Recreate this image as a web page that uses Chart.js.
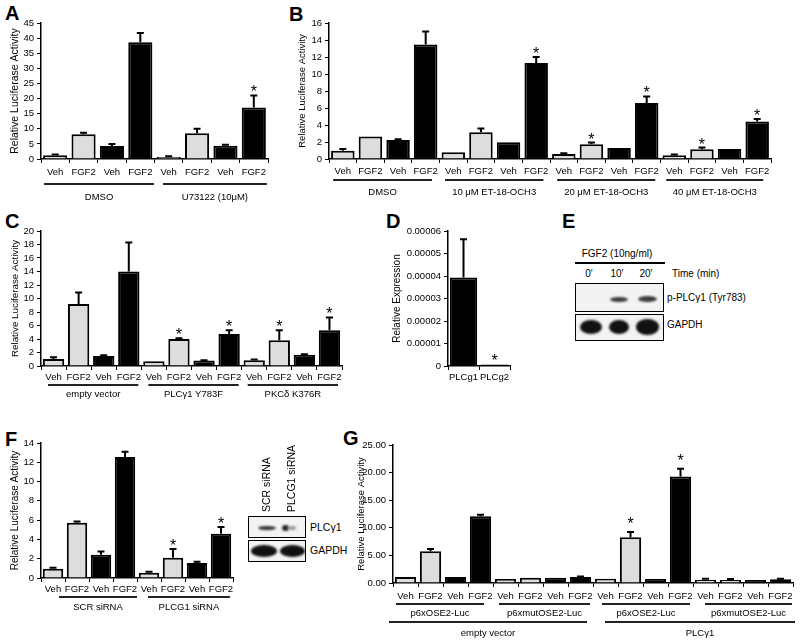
<!DOCTYPE html>
<html>
<head>
<meta charset="utf-8">
<script src="https://cdn.jsdelivr.net/npm/chart.js@4"></script>
<style>
body { margin: 0; background: #fff; width: 800px; height: 644px; position: relative; overflow: hidden; font-family: "Liberation Sans", Arial, sans-serif; }
canvas { position: absolute; }
.lt { position: absolute; font-weight: bold; font-size: 20px; line-height: 1; }
.txt { position: absolute; font-size: 10px; white-space: nowrap; line-height: 1; }
.box { position: absolute; border: 1.5px solid #000; background: #f3f3f3; box-sizing: border-box; overflow: hidden; }
.band { position: absolute; border-radius: 50%; }
.vt { position: absolute; font-size: 10.5px; white-space: nowrap; writing-mode: vertical-rl; transform: rotate(180deg); line-height: 1; }
</style>
</head>
<body>

<div class="lt" style="left:5px;top:3px">A</div>
<div class="lt" style="left:289px;top:4px">B</div>
<div class="lt" style="left:5px;top:211px">C</div>
<div class="lt" style="left:386px;top:211px">D</div>
<div class="lt" style="left:562px;top:211px">E</div>
<div class="lt" style="left:5px;top:429px">F</div>
<div class="lt" style="left:343px;top:428px">G</div>

<!-- E western blot -->
<div class="txt" style="left:617px;top:249px;transform:translateX(-50%)">FGF2 (10ng/ml)</div>
<div style="position:absolute;left:575px;top:262px;width:90px;height:1.5px;background:#000"></div>
<div class="txt" style="left:589px;top:269px;transform:translateX(-50%)">0'</div>
<div class="txt" style="left:617px;top:269px;transform:translateX(-50%)">10'</div>
<div class="txt" style="left:646px;top:269px;transform:translateX(-50%)">20'</div>
<div class="txt" style="left:672px;top:269px">Time (min)</div>
<div class="box" style="left:575px;top:283px;width:89px;height:29px">
  <div class="band" style="left:34px;top:13px;width:18px;height:5px;background:#3a3a3a;filter:blur(1px)"></div>
  <div class="band" style="left:62px;top:12px;width:19px;height:6px;background:#3a3a3a;filter:blur(1px)"></div>
</div>
<div class="box" style="left:575px;top:314px;width:89px;height:27px">
  <div class="band" style="left:4px;top:5px;width:22px;height:14px;background:#111;filter:blur(1.2px)"></div>
  <div class="band" style="left:33px;top:5px;width:20px;height:14px;background:#111;filter:blur(1.2px)"></div>
  <div class="band" style="left:60px;top:4px;width:23px;height:16px;background:#111;filter:blur(1.2px)"></div>
</div>
<div class="txt" style="left:667px;top:293px">p-PLCγ1 (Tyr783)</div>
<div class="txt" style="left:667px;top:320px">GAPDH</div>

<!-- F western blot -->
<div class="vt" style="left:261px;top:455px;height:57px">SCR siRNA</div>
<div class="vt" style="left:286px;top:445px;height:67px">PLCG1 siRNA</div>
<div class="box" style="left:248px;top:516px;width:58px;height:22px">
  <div class="band" style="left:9px;top:9px;width:18px;height:4px;background:#333;filter:blur(0.8px)"></div>
  <div class="band" style="left:33px;top:8px;width:7px;height:6px;background:#222;filter:blur(0.8px)"></div>
  <div class="band" style="left:39px;top:9px;width:8px;height:4px;background:#999;filter:blur(1px)"></div>
</div>
<div class="box" style="left:248px;top:540px;width:58px;height:22px">
  <div class="band" style="left:2px;top:4px;width:26px;height:12px;background:#111;filter:blur(1px)"></div>
  <div class="band" style="left:31px;top:4px;width:25px;height:12px;background:#111;filter:blur(1px)"></div>
</div>
<div class="txt" style="left:310px;top:522px;font-size:10.5px">PLCγ1</div>
<div class="txt" style="left:310px;top:545px;font-size:10.5px">GAPDH</div>

<script>
// ---- data ----
const aLabels = ['Veh', 'FGF2', 'Veh', 'FGF2', 'Veh', 'FGF2', 'Veh', 'FGF2'];
const aValues = [1.2, 8.2, 4.3, 38.6, 0.7, 8.5, 4.4, 17.0];
const aErrors = [0.3, 0.5, 0.7, 3.1, 0.2, 1.5, 0.35, 4.0];
const aStars = [0, 0, 0, 0, 0, 0, 0, 1];
const aGroups = ['DMSO', 'U73122 (10μM)'];
const aSpans = [[-0.39, 3.48], [3.8, 7.46]];

const bLabels = ['Veh', 'FGF2', 'Veh', 'FGF2', 'Veh', 'FGF2', 'Veh', 'FGF2',
                 'Veh', 'FGF2', 'Veh', 'FGF2', 'Veh', 'FGF2', 'Veh', 'FGF2'];
const bValues = [0.98, 2.64, 2.24, 13.46, 0.79, 3.15, 1.97, 11.3, 0.59, 1.73, 1.3, 6.6, 0.43, 1.14, 1.18, 4.4];
const bErrors = [0.2, 0, 0.08, 1.55, 0, 0.43, 0, 0.7, 0.1, 0.2, 0, 0.76, 0.1, 0.2, 0, 0.3];
const bStars = [0, 0, 0, 0, 0, 0, 0, 1, 0, 1, 0, 1, 0, 1, 0, 1];
const bGroups = ['DMSO', '10 μM ET-18-OCH3', '20 μM ET-18-OCH3', '40 μM ET-18-OCH3'];
const bSpans = [[-0.35, 3.23], [3.7, 7.26], [7.76, 11.31], [11.71, 15.22]];

const cLabels = ['Veh', 'FGF2', 'Veh', 'FGF2', 'Veh', 'FGF2', 'Veh', 'FGF2', 'Veh', 'FGF2', 'Veh', 'FGF2'];
const cValues = [1.04, 9.2, 1.5, 14.0, 0.7, 4.0, 0.8, 4.75, 0.85, 3.8, 1.65, 5.3];
const cErrors = [0.26, 1.7, 0.1, 4.3, 0, 0.1, 0.05, 0.55, 0.1, 1.5, 0.1, 1.9];
const cStars = [0, 0, 0, 0, 0, 1, 0, 1, 0, 1, 0, 1];
const cGroups = ['empty vector', 'PLCγ1 Y783F', 'PKCδ K376R'];
const cSpans = [[-0.22, 3.38], [3.78, 7.38], [7.74, 11.34]];

const dLabels = ['PLCg1', 'PLCg2'];
const dValues = [0.0000393, 0.0000007];
const dErrors = [0.000017, 0];
const dStars = [0, 1];

const fLabels = ['Veh', 'FGF2', 'Veh', 'FGF2', 'Veh', 'FGF2', 'Veh', 'FGF2'];
const fValues = [0.97, 5.72, 2.41, 12.55, 0.55, 2.1, 1.55, 4.59];
const fErrors = [0.1, 0.14, 0.35, 0.55, 0.1, 0.9, 0.14, 0.69];
const fStars = [0, 0, 0, 0, 0, 1, 0, 1];
const fGroups = ['SCR siRNA', 'PLCG1 siRNA'];
const fSpans = [[0.25, 3.5], [3.96, 7.37]];

const gLabels = ['Veh', 'FGF2', 'Veh', 'FGF2', 'Veh', 'FGF2', 'Veh', 'FGF2',
                 'Veh', 'FGF2', 'Veh', 'FGF2', 'Veh', 'FGF2', 'Veh', 'FGF2'];
const gValues = [1.09, 5.74, 1.09, 12.08, 0.72, 0.97, 0.97, 1.09, 0.78, 8.27, 0.72, 19.3, 0.6, 0.54, 0.54, 0.66];
const gErrors = [0, 0.42, 0, 0.3, 0, 0, 0, 0.11, 0, 0.97, 0, 1.4, 0.18, 0.18, 0, 0.12];
const gStars = [0, 0, 0, 0, 0, 0, 0, 0, 0, 1, 0, 1, 0, 0, 0, 0];
const gSubGroups = ['p6xOSE2-Luc', 'p6xmutOSE2-Luc', 'p6xOSE2-Luc', 'p6xmutOSE2-Luc'];
const gSubSpans = [[-0.38, 3.14], [3.74, 7.38], [7.86, 11.38], [11.98, 15.46]];
const gMainGroups = ['empty vector', 'PLCγ1'];
const gMainSpans = [[-0.66, 7.26], [7.98, 15.58]];

// ---- styling ----
Chart.defaults.font.family = '"Liberation Sans", Arial, sans-serif';
Chart.defaults.color = '#000';
const GREY = '#dddddd', BLACK = '#000000';
const shade = (labels) => labels.map((l, i) => (i % 4 < 2 ? GREY : BLACK));

// error bars, stars and the group lines under the axis
const extras = {
    id: 'extras',
    afterDraw(chart, args, opts) {
        const ctx = chart.ctx, ys = chart.scales.y, xs = chart.scales.x;
        const meta = chart.getDatasetMeta(0);
        const vals = chart.data.datasets[0].data;
        ctx.save();
        ctx.strokeStyle = '#000';
        ctx.fillStyle = '#000';
        ctx.lineWidth = 2;
        meta.data.forEach((bar, i) => {
            const e = opts.errors[i];
            const top = ys.getPixelForValue(vals[i] + e);
            if (e > 0) {
                ctx.beginPath();
                ctx.moveTo(bar.x, bar.y);
                ctx.lineTo(bar.x, top);
                ctx.moveTo(bar.x - 3.5, top);
                ctx.lineTo(bar.x + 3.5, top);
                ctx.stroke();
            }
            if (opts.stars[i]) {
                ctx.font = '16px "Liberation Sans"';
                ctx.textAlign = 'center';
                ctx.textBaseline = 'alphabetic';
                ctx.fillText('*', bar.x, top - opts.starGap + 9);
            }
        });
        const x0 = xs.getPixelForValue(0);
        const cw = xs.getPixelForValue(1) - x0;
        const bottom = chart.chartArea.bottom;
        (opts.rows || []).forEach(row => {
            row.names.forEach((name, k) => {
                const x1 = x0 + row.spans[k][0] * cw, x2 = x0 + row.spans[k][1] * cw;
                ctx.strokeStyle = '#222';
                ctx.lineWidth = 2;
                ctx.beginPath();
                ctx.moveTo(x1, bottom + row.line);
                ctx.lineTo(x2, bottom + row.line);
                ctx.stroke();
                ctx.font = row.size + 'px "Liberation Sans"';
                ctx.textAlign = 'center';
                ctx.textBaseline = 'middle';
                ctx.fillText(name, (x1 + x2) / 2, bottom + row.label);
            });
        });
        ctx.restore();
    }
};

function panel(p) {
    const [cl, ct, cw, ch] = p.canvas;
    const [al, at, ar, ab] = p.area;
    const cv = document.createElement('canvas');
    cv.width = cw; cv.height = ch;
    cv.style.left = cl + 'px'; cv.style.top = ct + 'px';
    cv.style.width = cw + 'px'; cv.style.height = ch + 'px';
    document.body.appendChild(cv);
    const pl = Math.round(p.titleX - cl - p.titleSize * 0.6);
    const yw = al - cl - pl;
    const xh = ct + ch - ab;
    new Chart(cv, {
        type: 'bar',
        data: {
            labels: p.labels,
            datasets: [{
                data: p.values,
                backgroundColor: p.fills,
                borderColor: '#000',
                borderWidth: 2,
                borderSkipped: 'bottom',
                categoryPercentage: 1,
                barPercentage: p.barPct || 0.85
            }]
        },
        options: {
            responsive: false,
            animation: false,
            layout: { padding: { left: pl, top: at - ct, right: cl + cw - ar, bottom: 0 } },
            plugins: {
                legend: { display: false },
                tooltip: { enabled: false },
                extras: { errors: p.errors, stars: p.stars, starGap: p.starGap || 7, rows: p.rows }
            },
            scales: {
                x: {
                    ticks: { font: { size: 9.5 }, color: '#000', padding: p.xPad, maxRotation: 0, autoSkip: false },
                    grid: { drawOnChartArea: false, tickLength: 4, color: '#000', offset: true },
                    border: { color: '#000', width: 1.5 },
                    afterFit(s) { s.height = xh; }
                },
                y: {
                    min: 0,
                    max: p.yMax,
                    ticks: { stepSize: p.yStep, autoSkip: false, font: { size: 9.5 }, color: '#000', padding: 3, callback: p.fmt },
                    grid: { drawOnChartArea: false, tickLength: 4, color: '#000' },
                    border: { color: '#000', width: 1.5 },
                    title: { display: true, text: p.title, font: { size: p.titleSize }, color: '#000', padding: { top: 0, bottom: 0 } },
                    afterFit(s) { s.width = yw; }
                }
            }
        },
        plugins: [extras]
    });
}

panel({
    canvas: [0, 0, 275, 210], area: [41, 23, 268, 159], titleX: 15, titleSize: 10.5,
    labels: aLabels, values: aValues, errors: aErrors, stars: aStars, fills: shade(aLabels),
    yMax: 45, yStep: 5, title: 'Relative Luciferase Activity', xPad: 4, starGap: 8,
    rows: [{ names: aGroups, spans: aSpans, line: 25, label: 38, size: 9.5 }]
});

panel({
    canvas: [275, 0, 525, 210], area: [329, 23, 771, 159], titleX: 303, titleSize: 9.5,
    labels: bLabels, values: bValues, errors: bErrors, stars: bStars, fills: shade(bLabels),
    yMax: 16, yStep: 2, title: 'Relative Luciferase Activity', xPad: 3,
    rows: [{ names: bGroups, spans: bSpans, line: 21, label: 33, size: 9.5 }]
});

panel({
    canvas: [0, 210, 380, 200], area: [41, 231, 342, 366], titleX: 15, titleSize: 9.8,
    labels: cLabels, values: cValues, errors: cErrors, stars: cStars, fills: shade(cLabels),
    yMax: 20, yStep: 2, title: 'Relative Luciferase Activity', xPad: 2,
    rows: [{ names: cGroups, spans: cSpans, line: 19, label: 28, size: 9.5 }]
});

panel({
    canvas: [380, 210, 160, 180], area: [448, 231, 510, 366], titleX: 397, titleSize: 10,
    labels: dLabels, values: dValues, errors: dErrors, stars: dStars, fills: [BLACK, BLACK],
    yMax: 0.00006, yStep: 0.00001, title: 'Relative Expression', xPad: 2, barPct: 0.88,
    fmt: v => (v === 0 ? '0' : v.toFixed(5)),
    rows: []
});

panel({
    canvas: [0, 420, 240, 200], area: [41, 443, 233, 578], titleX: 15, titleSize: 10,
    labels: fLabels, values: fValues, errors: fErrors, stars: fStars, fills: shade(fLabels),
    yMax: 14, yStep: 2, title: 'Relative Luciferase Activity', xPad: 2,
    rows: [{ names: fGroups, spans: fSpans, line: 19, label: 29, size: 9.5 }]
});

panel({
    canvas: [335, 420, 465, 224], area: [393, 445, 793, 583], titleX: 362, titleSize: 9.5,
    labels: gLabels, values: gValues, errors: gErrors, stars: gStars, fills: shade(gLabels),
    yMax: 25, yStep: 5, title: 'Relative Luciferase Activity', xPad: 4, starGap: 12,
    fmt: v => v.toFixed(2),
    rows: [
        { names: gSubGroups, spans: gSubSpans, line: 21, label: 30, size: 9.5 },
        { names: gMainGroups, spans: gMainSpans, line: 39, label: 50, size: 9.5 }
    ]
});
</script>
</body>
</html>
